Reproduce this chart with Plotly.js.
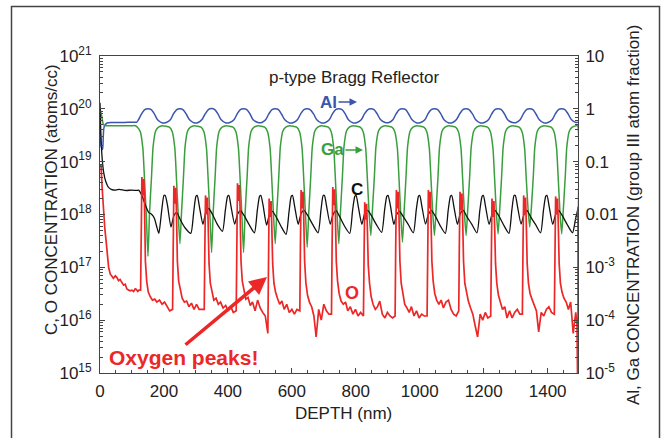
<!DOCTYPE html>
<html><head><meta charset="utf-8">
<script src="https://cdn.plot.ly/plotly-3.0.1.min.js"></script>
<style>html,body{margin:0;padding:0;background:#fff}#chart{width:668px;height:438px}</style>
</head><body><div id="chart"></div>
<script>
// ---------- DATA ----------
const alDepth = [0,4,8,13,22,40,70,100,115,
120,130,140,150,160,170,180,195,207,
220,230,240,250,260,270,280,295,307,
319,329,339,349,359,369,379,394,406,
419,429,439,449,459,469,479,494,506,
518,528,538,548,558,568,578,593,605,
618,628,638,648,658,668,678,693,705,
717,727,737,747,757,767,777,792,804,
817,827,837,847,857,867,877,892,904,
916,926,936,946,956,966,976,991,1003,
1016,1026,1036,1046,1056,1066,1076,1091,1103,
1115,1125,1135,1145,1155,1165,1175,1190,1202,
1215,1225,1235,1245,1255,1265,1275,1290,1302,
1314,1324,1334,1344,1354,1364,1374,1389,1401,
1414,1424,1434,1444,1454,1464,1474,1489,1495];
const alFraction = [1.05,0.19,0.17,0.46,0.54,0.55,0.55,0.56,0.56,
0.62,0.8,0.97,1.0,0.97,0.8,0.62,0.54,0.55,
0.62,0.81,0.97,1.0,0.96,0.79,0.62,0.54,0.55,
0.63,0.8,0.97,1.01,0.97,0.8,0.62,0.54,0.55,
0.62,0.8,0.97,1.0,0.97,0.8,0.62,0.55,0.55,
0.62,0.8,0.97,1.0,0.97,0.79,0.62,0.54,0.55,
0.63,0.81,0.97,1.0,0.96,0.8,0.62,0.54,0.55,
0.62,0.8,0.97,1.0,0.97,0.8,0.62,0.54,0.55,
0.62,0.8,0.96,1.0,0.97,0.8,0.63,0.55,0.55,
0.62,0.8,0.97,1.0,0.97,0.79,0.62,0.54,0.55,
0.62,0.81,0.97,1.0,0.97,0.8,0.62,0.54,0.55,
0.63,0.8,0.97,1.0,0.96,0.8,0.62,0.54,0.55,
0.62,0.8,0.97,1.0,0.97,0.8,0.62,0.55,0.55,
0.62,0.8,0.97,1.0,0.97,0.79,0.62,0.54,0.55,
0.62,0.8,0.97,1.0,0.97,0.8,0.63,0.55,0.56];

const gaDepth = [0,5,11,20,60,100,110,
117,126,134,139,145,150,155,161,166,174,183,195,
217,226,234,239,245,250,255,261,266,274,283,295,
316,325,333,338,344,349,354,360,365,373,382,394,
416,425,433,438,444,449,454,460,465,473,482,494,
515,524,532,537,543,548,553,559,564,572,581,593,
615,624,632,637,643,648,653,659,664,672,681,693,
714,723,731,736,742,747,752,758,763,771,780,792,
814,823,831,836,842,847,852,858,863,871,880,892,
913,922,930,935,941,946,951,957,962,970,979,991,
1013,1022,1030,1035,1041,1046,1051,1057,1062,1070,1079,1091,
1112,1121,1129,1134,1140,1145,1150,1156,1161,1169,1178,1190,
1212,1221,1229,1234,1240,1245,1250,1256,1261,1269,1278,1290,
1311,1320,1328,1333,1339,1344,1349,1355,1360,1368,1377,1389,
1411,1420,1428,1433,1439,1444,1449,1455,1460,1468,1477,1489,
1494,1495];
const gaFraction = [1.0,0.75,0.5,0.48,0.48,0.48,0.48,
0.45,0.37,0.18,0.05,0.009,0.0016,0.011,0.05,0.19,0.38,0.45,0.48,
0.45,0.37,0.18,0.05,0.009,0.0028,0.011,0.05,0.19,0.38,0.45,0.48,
0.45,0.37,0.18,0.05,0.009,0.0019,0.011,0.05,0.19,0.38,0.45,0.48,
0.45,0.37,0.18,0.05,0.009,0.0019,0.011,0.05,0.19,0.38,0.45,0.48,
0.45,0.37,0.18,0.05,0.009,0.0028,0.011,0.05,0.19,0.38,0.45,0.48,
0.45,0.37,0.18,0.05,0.009,0.0024,0.011,0.05,0.19,0.38,0.45,0.48,
0.45,0.37,0.18,0.05,0.009,0.0028,0.011,0.05,0.19,0.38,0.45,0.48,
0.45,0.37,0.18,0.05,0.010,0.0040,0.012,0.05,0.19,0.38,0.45,0.48,
0.45,0.37,0.18,0.05,0.009,0.0030,0.011,0.05,0.19,0.38,0.45,0.48,
0.45,0.37,0.18,0.05,0.010,0.0040,0.012,0.05,0.19,0.38,0.45,0.48,
0.45,0.37,0.18,0.05,0.010,0.0040,0.012,0.05,0.19,0.38,0.45,0.48,
0.45,0.37,0.18,0.05,0.010,0.0043,0.012,0.05,0.19,0.38,0.45,0.48,
0.45,0.37,0.18,0.05,0.012,0.0058,0.013,0.05,0.19,0.38,0.45,0.48,
0.45,0.37,0.18,0.05,0.010,0.0043,0.012,0.05,0.19,0.38,0.45,0.48,
0.48,0.0035];

const cDepth = [0,3,7,12,18,26,35,50,60,80,100,115,121,
131,142,152,162,170,177,
184,193,200,204,211,222,231,240,252,267,
284,293,300,304,311,322,331,340,352,367,
383,392,399,403,410,421,430,439,451,466,
483,492,499,503,510,521,530,539,551,566,
582,591,598,602,609,620,629,638,650,665,
682,691,698,702,709,720,729,738,750,765,
781,790,797,801,808,819,828,837,849,864,
881,890,897,901,908,919,928,937,949,964,
980,989,996,1000,1007,1018,1027,1036,1048,1063,
1080,1089,1096,1100,1107,1118,1127,1136,1148,1163,
1179,1188,1195,1199,1206,1217,1226,1235,1247,1262,
1279,1288,1295,1299,1306,1317,1326,1335,1347,1362,
1378,1387,1394,1398,1405,1416,1425,1434,1446,1461,
1478,1487,1495];
const cConc = [1.3e20,3e19,1.1e19,6e18,4.2e18,3.3e18,3.0e18,2.9e18,3.0e18,2.85e18,2.9e18,2.85e18,2.9e18,
2.3e18,1.5e18,1.1e18,1.0e18,8.5e17,6e17,
4.4e17,1.2e18,2.3e18,2.3e18,1.5e18,5.8e17,9.5e17,1.1e18,7.8e17,5.5e17,
4.4e17,1.1e18,2.2e18,2.3e18,1.4e18,6.5e17,1.1e18,1.3e18,1.0e18,6.5e17,
4.8e17,1.2e18,2.2e18,2.3e18,1.4e18,6.6e17,1.0e18,1.2e18,9.5e17,6.5e17,
4.5e17,1.2e18,2.2e18,2.3e18,1.5e18,6.3e17,1.0e18,1.15e18,9e17,6e17,
4.2e17,1.1e18,2.2e18,2.3e18,1.4e18,6.5e17,1.05e18,1.2e18,9.5e17,6.5e17,
4.5e17,1.2e18,2.3e18,2.3e18,1.4e18,6.6e17,1.0e18,1.2e18,9e17,6e17,
4.4e17,1.2e18,2.2e18,2.3e18,1.4e18,6.5e17,1.05e18,1.2e18,9.5e17,6.5e17,
4.6e17,1.2e18,2.2e18,2.3e18,1.5e18,6.5e17,1.0e18,1.15e18,9e17,6.5e17,
4.5e17,1.2e18,2.2e18,2.3e18,1.4e18,6.6e17,1.0e18,1.2e18,9.5e17,6.3e17,
4.4e17,1.2e18,2.2e18,2.3e18,1.4e18,6.5e17,1.05e18,1.2e18,9e17,6.5e17,
4.5e17,1.2e18,2.2e18,2.3e18,1.4e18,6.5e17,1.0e18,1.2e18,9.5e17,6.4e17,
4.4e17,1.2e18,2.3e18,2.3e18,1.4e18,6.6e17,1.0e18,1.2e18,9e17,6.5e17,
4.5e17,1.2e18,2.2e18,2.3e18,1.4e18,6.5e17,1.0e18,1.2e18,9.5e17,6.5e17,
4.5e17,8e17,1.3e18];

const oDepth = [0,3,7,11,15,19,23,27,32,37,42,48,53,58,63,68,74,79,84,90,95,100,105,110,114,118,122,
127,129,130,131,134,137,139,142,146,151,157,164,171,178,186,194,202,210,218,
227,229,230,231,234,237,239,242,246,251,257,264,271,278,286,294,302,310,318,
326,328,329,330,333,336,338,341,345,350,356,363,370,377,385,393,401,409,417,
426,428,429,430,433,436,438,441,445,450,456,463,470,477,485,493,501,509,517,
525,527,528,529,532,535,537,540,544,549,555,562,569,576,584,592,600,608,616,
625,627,628,629,632,635,637,640,644,649,655,662,669,676,684,692,700,708,716,
724,726,727,728,731,734,736,739,743,748,754,761,768,775,783,791,799,807,815,
824,826,827,828,831,834,836,839,843,848,854,861,868,875,883,891,899,907,915,
923,925,926,927,930,933,935,938,942,947,953,960,967,974,982,990,998,1006,1014,
1023,1025,1026,1027,1030,1033,1035,1038,1042,1047,1053,1060,1067,1074,1082,1090,1098,1106,1114,
1122,1124,1125,1126,1129,1132,1134,1137,1141,1146,1152,1159,1166,1173,1181,1189,1197,1205,1213,
1222,1224,1225,1226,1229,1232,1234,1237,1241,1246,1252,1259,1266,1273,1281,1289,1297,1305,1313,
1321,1323,1324,1325,1328,1331,1333,1336,1340,1345,1351,1358,1365,1372,1380,1388,1396,1404,1412,
1421,1423,1424,1425,1428,1431,1433,1436,1440,1445,1451,1458,1465,1472,1480,1488,
1492,1495,1495];
const oConc = [8.5e18,8.5e18,3e18,1.05e18,5.5e17,3.2e17,1.8e17,1.0e17,7.5e16,6.6e16,6.2e16,6.9e16,6.4e16,5.6e16,5.9e16,5.2e16,4.6e16,4.8e16,3.9e16,3.7e16,3.6e16,3.7e16,3.5e16,3.9e16,3.8e16,3.5e16,3.7e16,
3.7e16,3e17,3.8e18,5.1e18,2.3e18,4.7e18,1.8e18,1.3e17,5.5e16,3.4e16,2.8e16,2.4e16,2.5e16,2.2e16,2.4e16,2.0e16,2.2e16,1.8e16,1.5e16,
1.6e16,3e17,2.6e18,3.5e18,1.6e18,3.2e18,1.2e18,1.3e17,5.5e16,3.6e16,2.6e16,2.2e16,2.3e16,1.8e16,2.1e16,1.6e16,2.0e16,1.6e16,1.6e16,
1.6e16,2.5e17,1.7e18,2.3e18,1.0e18,2.1e18,8e17,1.2e17,5e16,3.3e16,2.4e16,2.6e16,2.0e16,2.2e16,1.7e16,1.9e16,1.5e16,1.8e16,1.4e16,
1.5e16,3e17,2.9e18,3.9e18,1.8e18,3.6e18,1.4e18,1.3e17,5.5e16,3.5e16,2.5e16,2.7e16,1.9e16,2.2e16,1.5e16,2.4e16,1.7e16,1.4e16,1.2e16,
5.6e15,2.5e17,1.5e18,2.0e18,9e17,1.8e18,7e17,1.2e17,5e16,3.4e16,2.6e16,2.0e16,2.3e16,1.6e16,2.0e16,1.4e16,1.6e16,1.3e16,1.6e16,
1.5e16,3e17,2.2e18,2.9e18,1.3e18,2.7e18,1.0e18,1.3e17,5e16,3.0e16,2.2e16,1.8e16,1.2e16,4.8e15,1.6e16,1.0e16,2.0e16,1.5e16,1.3e16,
1.3e16,3e17,2.5e18,3.3e18,1.5e18,3.0e18,1.2e18,1.3e17,5.5e16,3.2e16,2.3e16,2.0e16,2.2e16,1.5e16,1.8e16,1.3e16,1.6e16,1.2e16,1.4e16,
1.2e16,2e17,1.3e18,1.7e18,8e17,1.6e18,6e17,1.1e17,5e16,2.8e16,2.0e16,1.6e16,1.8e16,2.3e16,1.3e16,1.1e16,1.4e16,1.2e16,1.1e16,
1.2e16,3e17,2.2e18,2.9e18,1.3e18,2.7e18,1.0e18,1.3e17,5e16,3.0e16,2.0e16,1.7e16,1.4e16,1.8e16,1.2e16,1.5e16,1.1e16,1.3e16,1.2e16,
1.2e16,3e17,2.2e18,2.9e18,1.3e18,2.7e18,1.0e18,1.3e17,5.5e16,3.2e16,2.4e16,2.0e16,2.4e16,1.7e16,2.2e16,2.4e16,1.6e16,1.3e16,1.2e16,
1.5e16,3e17,2.0e18,2.7e18,1.2e18,2.5e18,9.5e17,1.3e17,5e16,3.3e16,2.3e16,1.7e16,1.3e16,8e15,4.8e15,1.3e16,1.0e16,1.4e16,1.1e16,
1.2e16,2.5e17,1.5e18,2.0e18,9e17,1.8e18,7e17,1.2e17,5e16,3.0e16,2.2e16,1.6e16,1.8e16,1.1e16,1.5e16,1.1e16,1.4e16,1.6e16,1.3e16,
1.3e16,2.5e17,1.7e18,2.3e18,1.0e18,2.1e18,8e17,1.2e17,5e16,3.2e16,2.5e16,2.0e16,1.5e16,6e15,1.4e16,1.2e16,1.6e16,1.8e16,1.4e16,
1.3e16,2.5e17,1.7e18,2.2e18,1.0e18,2.0e18,8e17,1.2e17,5e16,3.4e16,2.6e16,2.2e16,1.6e16,2.2e16,5.6e15,1.4e16,
8e15,1e14,1.4e18];

const leftTickVals = [1e15,1e16,1e17,1e18,1e19,1e20,1e21];
const leftTickText = ['10<sup>15</sup>','10<sup>16</sup>','10<sup>17</sup>','10<sup>18</sup>','10<sup>19</sup>','10<sup>20</sup>','10<sup>21</sup>'];
const rightTickVals = [1e-5,1e-4,1e-3,0.01,0.1,1,10];
const rightTickText = ['10<sup>-5</sup>','10<sup>-4</sup>','10<sup>-3</sup>','0.01','0.1','1','10'];

// ---------- LAYOUT HELPERS ----------
const L = 100, T = 56, W = 478, H = 317;
const px = x => (x - L) / W;
const py = y => 1 - (y - T) / H;
function logMinor(e0, e1) { const v = []; for (let e = e0; e < e1; e++) for (let k = 2; k <= 9; k++) v.push(k * Math.pow(10, e)); return v; }

const BLUE = '#3b55ad', GREEN = '#3a9e3e', RED = '#ec2727', BLACK = '#111111', AX = '#444444';
const FONT = 'Liberation Sans, Arial, Helvetica, sans-serif';

const traces = [
  {x: alDepth, y: alFraction, yaxis: 'y', type: 'scatter', mode: 'lines', line: {color: BLUE, width: 1.5, shape: 'spline', smoothing: 0.8}, hoverinfo: 'skip'},
  {x: gaDepth, y: gaFraction, yaxis: 'y', type: 'scatter', mode: 'lines', line: {color: GREEN, width: 1.5, shape: 'spline', smoothing: 0.5}, hoverinfo: 'skip'},
  {x: cDepth, y: cConc, yaxis: 'y2', type: 'scatter', mode: 'lines', line: {color: BLACK, width: 1.3, shape: 'spline', smoothing: 0.6}, hoverinfo: 'skip'},
  {x: oDepth, y: oConc, yaxis: 'y2', type: 'scatter', mode: 'lines', line: {color: RED, width: 1.7}, hoverinfo: 'skip'}
];

const axCommon = {showgrid: false, zeroline: false, showline: true, linecolor: AX, linewidth: 1, ticks: 'inside', ticklen: 5, tickcolor: AX, tickfont: {family: FONT, size: 17, color: '#222'}};

const ann = (x, y, text, opt) => Object.assign({xref: 'paper', yref: 'paper', x: px(x), y: py(y), text: text, showarrow: false, xanchor: 'center', yanchor: 'middle'}, opt || {});
const arrow = (x, y, ax, ay, color, width) => ({xref: 'paper', yref: 'paper', x: px(x), y: py(y), ax: ax, ay: ay, text: '', showarrow: true, arrowhead: 2, arrowsize: 1, arrowwidth: width, arrowcolor: color, standoff: 0, startstandoff: 0});

const layout = {
  width: 668, height: 438,
  margin: {l: L, r: 668 - L - W, t: T, b: 438 - T - H, pad: 0},
  paper_bgcolor: '#ffffff', plot_bgcolor: '#ffffff',
  font: {family: FONT, size: 17, color: '#222'},
  showlegend: false,
  title: {text: 'p-type Bragg Reflector', font: {family: FONT, size: 17, color: '#222'}, xref: 'paper', yref: 'paper', x: px(354), y: py(77), xanchor: 'center', yanchor: 'middle'},
  xaxis: Object.assign({}, axCommon, {range: [0, 1495], tickmode: 'linear', tick0: 0, dtick: 200, mirror: true, ticklabelstandoff: 3,
    minor: {tickmode: 'linear', tick0: 0, dtick: 50, ticks: 'inside', ticklen: 3, tickcolor: AX, showgrid: false}}),
  yaxis: Object.assign({}, axCommon, {type: 'log', range: [-5, 1], side: 'right', tickmode: 'array', tickvals: rightTickVals, ticktext: rightTickText, ticklabelstandoff: 3,
    minor: {tickmode: 'array', tickvals: logMinor(-5, 1), ticks: 'inside', ticklen: 3, tickcolor: AX, showgrid: false}}),
  yaxis2: Object.assign({}, axCommon, {type: 'log', range: [15, 21], side: 'left', overlaying: 'y', tickmode: 'array', tickvals: leftTickVals, ticktext: leftTickText, ticklabelstandoff: 4,
    minor: {tickmode: 'array', tickvals: logMinor(15, 21), ticks: 'inside', ticklen: 3, tickcolor: AX, showgrid: false}}),
  annotations: [
    ann(51, 200, 'C, O CONCENTRATION (atoms/cc)', {textangle: -90, font: {family: FONT, size: 17, color: '#222'}}),
    ann(633, 215, 'Al, Ga CONCENTRATION (group III atom fraction)', {textangle: -90, font: {family: FONT, size: 17, color: '#222'}}),
    ann(343, 413, 'DEPTH (nm)', {font: {family: FONT, size: 17, color: '#222'}}),
    ann(328, 102, '<b>Al</b>', {font: {family: FONT, size: 17, color: BLUE}}),
    ann(332, 149, '<b>Ga</b>', {font: {family: FONT, size: 17, color: GREEN}}),
    ann(357, 189, '<b>C</b>', {font: {family: FONT, size: 17, color: BLACK}}),
    ann(352, 293, '<b>O</b>', {font: {family: FONT, size: 18, color: RED}}),
    ann(183, 357, '<b>Oxygen peaks!</b>', {font: {family: FONT, size: 21, color: RED}}),
    arrow(357, 102, -20, 0, BLUE, 1.5),
    arrow(363, 150, -19, 0, GREEN, 1.5),
    arrow(267, 277, -83, 69, RED, 3.5)
  ],
  shapes: [
    {type: 'rect', xref: 'paper', yref: 'paper', x0: px(11.5), x1: px(659.5), y0: py(470), y1: py(6.5), line: {color: AX, width: 1.5}, fillcolor: 'rgba(0,0,0,0)', layer: 'below'}
  ]
};

Plotly.newPlot('chart', traces, layout, {displayModeBar: false, staticPlot: true});
</script>
</body></html>
